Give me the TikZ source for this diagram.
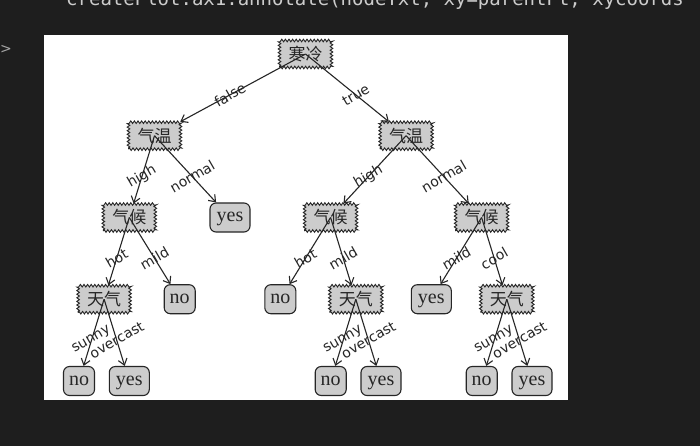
\documentclass[tikz,border=0pt]{standalone}
\usepackage{fontspec}
\setmainfont{Liberation Serif}
\newfontfamily\cjkfont{Noto Sans CJK SC}
\newfontfamily\labfont{DejaVu Sans}
\newfontfamily\codefont{DejaVu Sans Mono}
\usetikzlibrary{arrows.meta,decorations.pathmorphing}
\definecolor{bgdark}{HTML}{1E1E1E}
\definecolor{boxgray}{gray}{0.8}
\definecolor{codegray}{HTML}{CCCCCC}
\definecolor{inkc}{HTML}{262626}
\begin{document}
\begin{tikzpicture}[x=1pt,y=-1pt,
  decnode/.style={draw=inkc, line width=0.9pt, fill=boxgray, decorate,
    decoration={zigzag,segment length=3.6pt,amplitude=1.3pt},
    font=\cjkfont\fontsize{17}{17}\selectfont, inner xsep=9pt, inner ysep=0pt,
    minimum height=27pt, text=inkc},
  leafnode/.style={draw=inkc, line width=1.1pt, fill=boxgray, rounded corners=6pt,
    font=\fontsize{20}{20}\selectfont, inner xsep=0pt, inner ysep=0pt,
    text height=9pt, text depth=0pt, minimum height=29pt, minimum width=31pt, text=inkc},
  leafwide/.style={leafnode, minimum width=40pt},
  conn/.style={draw=inkc, line width=1.1pt, -{Straight Barb[length=6pt,width=9pt]}},
  elab/.style={font=\labfont\fontsize{14}{14}\selectfont, rotate=30, text=inkc, inner sep=0pt}]
\useasboundingbox (0,0) rectangle (700,446);
\fill[bgdark] (0,0) rectangle (700,446);
\fill[white] (44,35) rectangle (568,400);
\node[anchor=base west, font=\codefont\fontsize{19}{19}\selectfont, text=codegray, inner sep=0pt] (code) at (66,6) {createPlot.ax1.annotate(nodeTxt, xy=parentPt, xycoords};
\node[anchor=east, font=\labfont\fontsize{14}{14}\selectfont, text=gray!70, inner sep=0pt] (tag) at (12,49) {</>};
% nodes
\node[decnode] (n0) at (305.5,54) {寒冷};
\node[decnode] (n1) at (154.5,135.7) {气温};
\node[decnode] (n2) at (406.1,135.7) {气温};
\node[decnode] (n11) at (129.3,217.5) {气候};
\node[leafwide] (n12) at (230,217.5) {yes};
\node[decnode] (n21) at (330.6,217.5) {气候};
\node[decnode] (n22) at (481.6,217.5) {气候};
\node[decnode] (n111) at (104.1,299.2) {天气};
\node[leafnode] (n112) at (179.7,299.2) {no};
\node[leafnode] (n211) at (280.3,299.2) {no};
\node[decnode] (n212) at (355.8,299.2) {天气};
\node[leafwide] (n221) at (431.3,299.2) {yes};
\node[decnode] (n222) at (506.8,299.2) {天气};
\node[leafnode] (a1) at (79,381) {no};
\node[leafwide] (a2) at (129.3,381) {yes};
\node[leafnode] (b1) at (330.7,381) {no};
\node[leafwide] (b2) at (381,381) {yes};
\node[leafnode] (c1) at (481.7,381) {no};
\node[leafwide] (c2) at (532,381) {yes};
% connectors
\draw[conn] (n0.center) -- (n1);
\draw[conn] (n0.center) -- (n2);
\draw[conn] (n1.center) -- (n11);
\draw[conn] (n1.center) -- (n12);
\draw[conn] (n2.center) -- (n21);
\draw[conn] (n2.center) -- (n22);
\draw[conn] (n11.center) -- (n111);
\draw[conn] (n11.center) -- (n112);
\draw[conn] (n21.center) -- (n211);
\draw[conn] (n21.center) -- (n212);
\draw[conn] (n22.center) -- (n221);
\draw[conn] (n22.center) -- (n222);
\draw[conn] (n111.center) -- (a1);
\draw[conn] (n111.center) -- (a2);
\draw[conn] (n212.center) -- (b1);
\draw[conn] (n212.center) -- (b2);
\draw[conn] (n222.center) -- (c1);
\draw[conn] (n222.center) -- (c2);
% labels
\path (n0.center) -- (n1.center) node[midway, elab] {false};
\path (n0.center) -- (n2.center) node[midway, elab] {true};
\path (n1.center) -- (n11.center) node[midway, elab] {high};
\path (n1.center) -- (n12.center) node[midway, elab] {normal};
\path (n2.center) -- (n21.center) node[midway, elab] {high};
\path (n2.center) -- (n22.center) node[midway, elab] {normal};
\path (n11.center) -- (n111.center) node[midway, elab] {hot};
\path (n11.center) -- (n112.center) node[midway, elab] {mild};
\path (n21.center) -- (n211.center) node[midway, elab] {hot};
\path (n21.center) -- (n212.center) node[midway, elab] {mild};
\path (n22.center) -- (n221.center) node[midway, elab] {mild};
\path (n22.center) -- (n222.center) node[midway, elab] {cool};
\path (n111.center) -- (a1.center) node[midway, elab] {sunny};
\path (n111.center) -- (a2.center) node[midway, elab] {overcast};
\path (n212.center) -- (b1.center) node[midway, elab] {sunny};
\path (n212.center) -- (b2.center) node[midway, elab] {overcast};
\path (n222.center) -- (c1.center) node[midway, elab] {sunny};
\path (n222.center) -- (c2.center) node[midway, elab] {overcast};
\end{tikzpicture}
\end{document}
